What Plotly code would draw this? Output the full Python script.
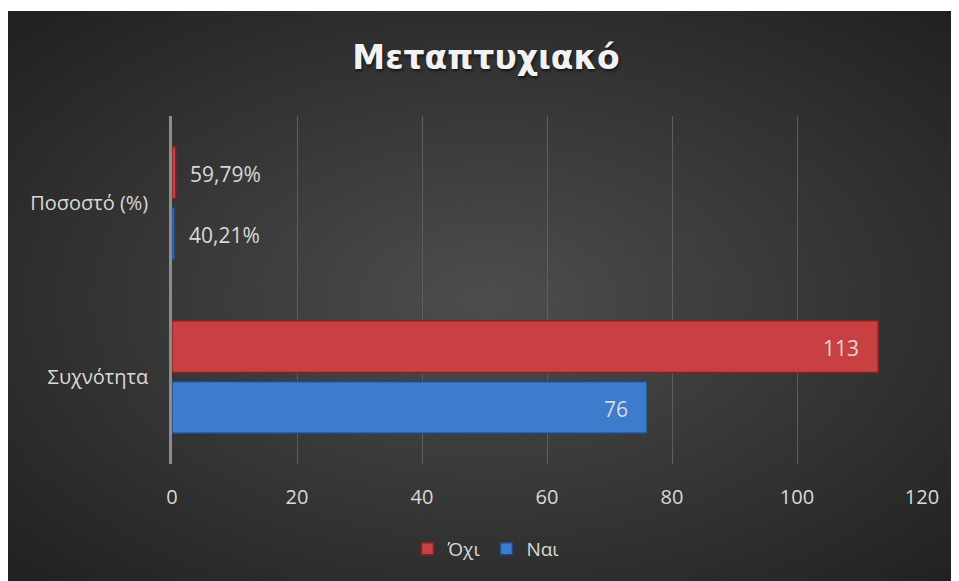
import base64
import plotly.graph_objects as go

categories = ["Συχνότητα", "Ποσοστό (%)"]
series_names = ["Όχι", "Ναι"]
oxi_values = [113, 0.5979]
nai_values = [76, 0.4021]
oxi_labels = ["113", "59,79%"]
nai_labels = ["76", "40,21%"]
x_ticks = [0, 20, 40, 60, 80, 100, 120]

W, H = 959, 581
ml, mr, mt, mb = 164, 45, 108, 125
pw, ph = W - ml - mr, H - mt - mb
top_strip = 3

BH = H - top_strip
svg = f'''<svg xmlns="http://www.w3.org/2000/svg" width="{W}" height="{BH}" viewBox="0 0 {W} {BH}" preserveAspectRatio="none">
<defs><radialGradient id="g" cx="50%" cy="50%" r="72%">
<stop offset="0%" stop-color="#4d4d4d"/><stop offset="100%" stop-color="#1f1f1f"/></radialGradient></defs>
<rect width="{W}" height="{BH}" fill="url(#g)"/></svg>'''
bg_uri = "data:image/svg+xml;base64," + base64.b64encode(svg.encode()).decode()

font_fam = "Open Sans, Noto Sans, sans-serif"
txt_col = "#d9d9d9"

fig = go.Figure()
fig.add_trace(go.Bar(
    y=categories, x=nai_values, name=series_names[1], orientation="h",
    marker=dict(color="#3d7ccc", line=dict(color="#22497e", width=1.5)),
    cliponaxis=False,
))
fig.add_trace(go.Bar(
    y=categories, x=oxi_values, name=series_names[0], orientation="h",
    marker=dict(color="#c94042", line=dict(color="#842325", width=1.5)),
    cliponaxis=False,
))

annotations = []
for vals, labels, yshift in ((oxi_values, oxi_labels, 29.5), (nai_values, nai_labels, -32)):
    for cat, v, lab in zip(categories, vals, labels):
        inside = v > 10
        annotations.append(dict(
            x=v, y=cat, xref="x", yref="y", text=lab, showarrow=False,
            xanchor="right" if inside else "left", xshift=-17 if inside else 12,
            yanchor="middle", yshift=yshift,
            font=dict(size=21, color=txt_col, family=font_fam),
        ))

fig.update_layout(
    width=W, height=H,
    margin=dict(l=ml, r=mr, t=mt, b=mb),
    paper_bgcolor="#ffffff", plot_bgcolor="rgba(0,0,0,0)",
    barmode="group", bargap=0.30, bargroupgap=0.15,
    title=dict(text="<b>Μεταπτυχιακό</b>", x=478 / W, xanchor="center", y=1 - 49 / H, yanchor="middle",
               font=dict(size=33, color="#f2f2f2", family="DejaVu Sans, sans-serif",
                         shadow="1px 2px 3px rgba(0,0,0,0.6)")),
    font=dict(family=font_fam, color=txt_col, size=20),
    xaxis=dict(range=[0, 120], tickvals=x_ticks, showgrid=True, gridcolor="#5e5e5e", gridwidth=1,
               zeroline=False, showline=False, ticks="", tickfont=dict(size=20, color=txt_col),
               ticklabelstandoff=19),
    yaxis=dict(showline=True, linecolor="#8c8c8c", linewidth=2.5, ticks="", showgrid=False,
               tickfont=dict(size=20, color=txt_col), ticklabelstandoff=17),
    legend=dict(orientation="h", x=(478 - ml) / pw, xanchor="center",
                y=-(541 - mt - ph) / ph, yanchor="middle", traceorder="reversed",
                font=dict(size=19, color=txt_col), bgcolor="rgba(0,0,0,0)", itemwidth=30),
    annotations=annotations,
    images=[dict(source=bg_uri, xref="paper", yref="paper", x=-ml / pw, y=1 + (mt - top_strip) / ph,
                 sizex=W / pw, sizey=BH / ph, sizing="stretch", layer="below", xanchor="left", yanchor="top")],
    showlegend=True,
)

fig.write_html("out.html")
